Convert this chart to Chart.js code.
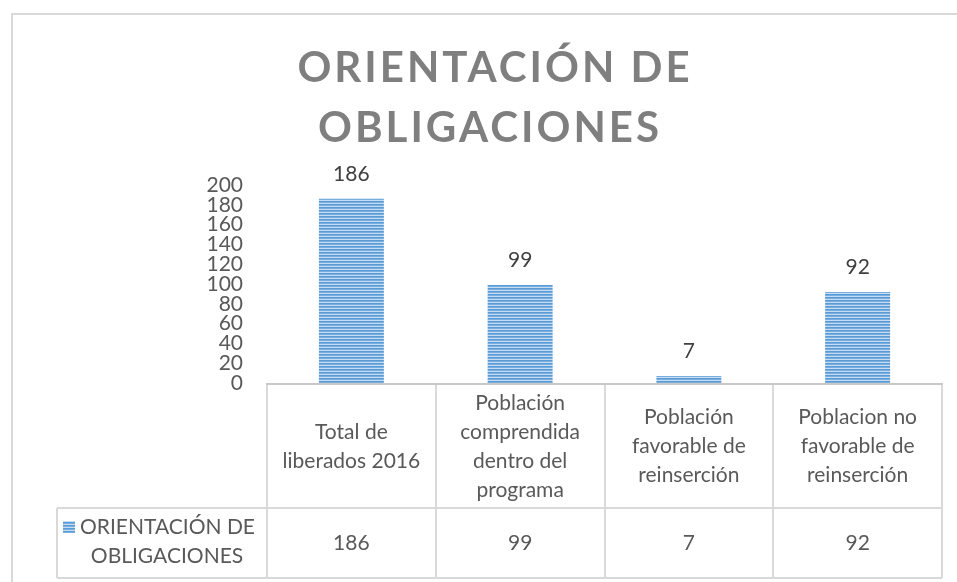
<!DOCTYPE html>
<html>
<head>
<meta charset="utf-8">
<script src="https://cdn.jsdelivr.net/npm/chart.js@4.4.1/dist/chart.umd.min.js"></script>
<style>
  html, body { margin: 0; padding: 0; background: #ffffff; }
  #wrap { width: 957px; height: 582px; position: relative; }
</style>
</head>
<body>
<div id="wrap"><canvas id="c" width="957" height="582"></canvas></div>
<script>
// ---- data ----
const titleLines = ['ORIENTACIÓN DE', 'OBLIGACIONES'];
const seriesName = ['ORIENTACIÓN DE', 'OBLIGACIONES'];
const categories = [
  ['Total de', 'liberados 2016'],
  ['Población', 'comprendida', 'dentro del', 'programa'],
  ['Población', 'favorable de', 'reinserción'],
  ['Poblacion no', 'favorable de', 'reinserción']
];
const values = [186, 99, 7, 92];
const yTicks = [0, 20, 40, 60, 80, 100, 120, 140, 160, 180, 200];

// ---- styles ----
const FONT = 'Lato, "Open Sans", sans-serif';
const TEXT = '#595959';
const GRID = '#d9d9d9';
const FS = 21;

function makePattern() {
  const pc = document.createElement('canvas');
  pc.width = 4; pc.height = 3;
  const p = pc.getContext('2d');
  const rows = ['#5b9bd5', '#78ade0', '#c6dcf2'];
  rows.forEach((c, i) => { p.fillStyle = c; p.fillRect(0, i, 4, 1); });
  return document.getElementById('c').getContext('2d').createPattern(pc, 'repeat');
}
const pattern = makePattern();

const decor = {
  id: 'decor',
  beforeDraw(chart) {
    const ctx = chart.ctx;
    ctx.save();
    ctx.fillStyle = '#fff';
    ctx.fillRect(0, 0, chart.width, chart.height);
    // outer chart border (top + left only visible)
    ctx.strokeStyle = GRID;
    ctx.lineWidth = 2;
    ctx.beginPath();
    ctx.moveTo(12, chart.height + 2);
    ctx.lineTo(12, 14);
    ctx.lineTo(chart.width + 2, 14);
    ctx.stroke();
    // title
    ctx.fillStyle = '#7f7f7f';
    ctx.font = 'bold 42px ' + FONT;
    ctx.textAlign = 'center';
    ctx.textBaseline = 'middle';
    try { ctx.letterSpacing = '3px'; } catch (e) {}
    ctx.fillText(titleLines[0], 495, 68);
    ctx.fillText(titleLines[1], 490, 128);
    try { ctx.letterSpacing = '0px'; } catch (e) {}
    ctx.restore();
  },
  afterDraw(chart) {
    const ctx = chart.ctx;
    const xs = chart.scales.x;
    const area = chart.chartArea;
    const n = categories.length;
    const cw = (xs.right - xs.left) / n;
    const top = area.bottom;
    const mid = top + 125;
    const bot = top + 195;
    const legLeft = 57;
    ctx.save();
    // value labels above bars
    const meta = chart.getDatasetMeta(0);
    ctx.fillStyle = '#404040';
    ctx.font = FS + 'px ' + FONT;
    ctx.textAlign = 'center';
    ctx.textBaseline = 'middle';
    meta.data.forEach((bar, i) => {
      ctx.fillText(String(values[i]), bar.x, bar.y - 25);
    });
    // table grid
    ctx.lineWidth = 2;
    ctx.strokeStyle = GRID;
    ctx.beginPath();
    for (let i = 0; i <= n; i++) {
      const x = Math.round(xs.left + i * cw);
      ctx.moveTo(x, top); ctx.lineTo(x, bot);
    }
    ctx.moveTo(legLeft, mid); ctx.lineTo(xs.right, mid);
    ctx.moveTo(legLeft, bot); ctx.lineTo(xs.right, bot);
    ctx.moveTo(legLeft, mid); ctx.lineTo(legLeft, bot);
    ctx.stroke();
    // axis line (slightly darker)
    ctx.strokeStyle = '#c8c8c8';
    ctx.beginPath();
    ctx.moveTo(xs.left - 1, top + 1); ctx.lineTo(xs.right + 1, top + 1);
    ctx.stroke();
    // category labels
    ctx.fillStyle = TEXT;
    ctx.font = FS + 'px ' + FONT;
    const lh = 29;
    categories.forEach((lines, i) => {
      const cx = xs.getPixelForValue(i);
      const cy = (top + mid) / 2 + 1;
      lines.forEach((t, j) => {
        ctx.fillText(t, cx, cy + (j - (lines.length - 1) / 2) * lh);
      });
      ctx.fillText(String(values[i]), cx, (mid + bot) / 2);
    });
    // legend cell
    ctx.fillStyle = pattern;
    ctx.fillRect(63, 521, 12, 12);
    ctx.fillStyle = TEXT;
    ctx.textAlign = 'left';
    ctx.fillText(seriesName[0], 80, 527);
    ctx.textAlign = 'center';
    ctx.fillText(seriesName[1], 167, 556);
    ctx.restore();
  }
};

new Chart(document.getElementById('c'), {
  type: 'bar',
  data: {
    labels: categories.map(l => l.join(' ')),
    datasets: [{
      label: seriesName.join(' '),
      data: values,
      backgroundColor: pattern,
      borderWidth: 0,
      barPercentage: 0.385,
      categoryPercentage: 1
    }]
  },
  options: {
    responsive: false,
    animation: false,
    devicePixelRatio: 1,
    layout: { padding: { top: 185, right: 15, left: 0, bottom: 0 } },
    plugins: { legend: { display: false }, title: { display: false }, tooltip: { enabled: false } },
    scales: {
      x: {
        grid: { display: false, drawTicks: false },
        border: { display: false },
        ticks: { display: false },
        afterFit(s) { s.height = 199; }
      },
      y: {
        min: 0, max: 200,
        afterBuildTicks(s) { s.ticks = yTicks.map(v => ({ value: v })); },
        grid: { display: false, drawTicks: false },
        border: { display: false },
        ticks: { color: TEXT, font: { family: FONT, size: FS }, padding: 24, autoSkip: false },
        afterFit(s) { s.width = 267; }
      }
    }
  },
  plugins: [decor]
});
</script>
</body>
</html>
